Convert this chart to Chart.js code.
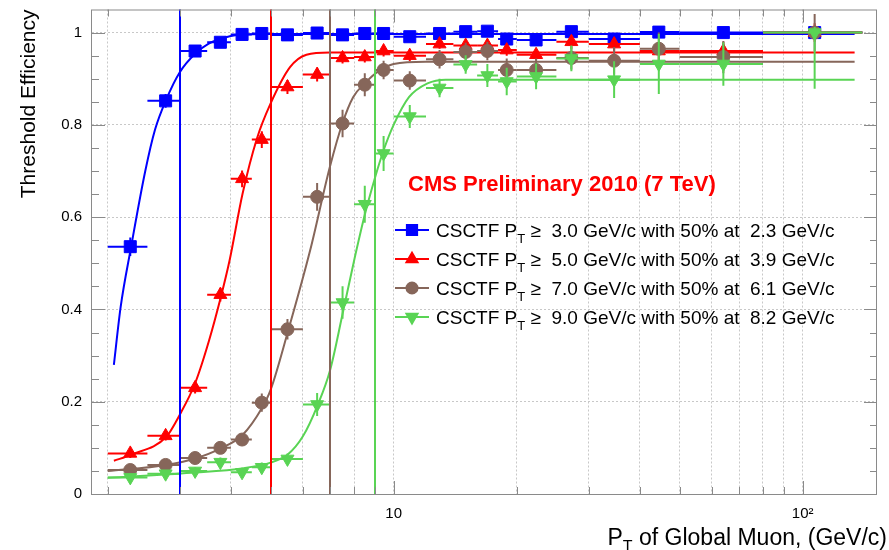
<!DOCTYPE html>
<html>
<head>
<meta charset="utf-8">
<script src="https://cdn.jsdelivr.net/npm/chart.js@4.4.1/dist/chart.umd.min.js"></script>
<style>
  html, body { margin: 0; padding: 0; background: #fff; }
  #wrap { width: 889px; height: 550px; position: relative; }
</style>
</head>
<body>
<div id="wrap"><canvas id="eff" width="889" height="550"></canvas></div>
<script>
// --- pT bins of the global muon (GeV/c) ---
const binLo    = [2.0, 2.5, 3.0, 3.5, 4.0, 4.5, 5, 6, 7, 8, 9, 10, 12, 14, 16, 18, 20, 25, 30, 40, 50, 80];
const binHi    = [2.5, 3.0, 3.5, 4.0, 4.5, 5.0, 6, 7, 8, 9, 10, 12, 14, 16, 18, 20, 25, 30, 40, 50, 80, 140];
const ptCenter = [2.27, 2.77, 3.27, 3.77, 4.26, 4.76, 5.5, 6.5, 7.5, 8.5, 9.45, 10.95, 12.95, 15, 16.95, 18.9, 22.3, 27.2, 34.6, 44.5, 64, 107];

// --- measured efficiencies and errors, one set per CSCTF threshold ---
const effPt3 = [0.536, 0.852, 0.96, 0.979, 0.996, 0.998, 0.995, 0.999, 0.995, 0.998, 0.998, 0.991, 0.998, 1.002, 1.003, 0.986, 0.984, 1.002, 0.986, 1.001, 1.0, 1.0];
const errPt3 = [0.02, 0.015, 0.01, 0.008, 0.005, 0.005, 0.005, 0.005, 0.005, 0.005, 0.005, 0.006, 0.005, 0.005, 0.005, 0.008, 0.008, 0.006, 0.008, 0.006, 0.006, 0.01];

const effPt5 = [0.088, 0.126, 0.23, 0.432, 0.683, 0.768, 0.882, 0.909, 0.945, 0.947, 0.96, 0.95, 0.975, 0.972, 0.972, 0.962, 0.952, 0.98, 0.975, 0.96, 0.96, 1.0];
const errPt5 = [0.01, 0.01, 0.012, 0.015, 0.018, 0.018, 0.015, 0.015, 0.012, 0.012, 0.012, 0.012, 0.01, 0.01, 0.012, 0.012, 0.012, 0.015, 0.015, 0.02, 0.02, 0.02];

const effPt7 = [0.052, 0.063, 0.078, 0.1, 0.118, 0.198, 0.357, 0.644, 0.803, 0.887, 0.919, 0.896, 0.942, 0.958, 0.96, 0.919, 0.919, 0.945, 0.939, 0.965, 0.947, 1.0];
const errPt7 = [0.008, 0.008, 0.01, 0.01, 0.012, 0.02, 0.022, 0.03, 0.03, 0.025, 0.02, 0.02, 0.02, 0.02, 0.02, 0.025, 0.025, 0.025, 0.03, 0.035, 0.035, 0.04];

const effPt9   = [0.036, 0.044, 0.05, 0.069, 0.047, 0.058, 0.076, 0.194, 0.415, 0.628, 0.738, 0.818, 0.88, 0.931, 0.907, 0.894, 0.905, 0.944, 0.898, 0.932, 0.932, 1.0];
const errPt9   = [0.008, 0.008, 0.008, 0.01, 0.01, 0.01, 0.012, 0.025, 0.035, 0.04, 0.038, 0.025, 0.02, 0.02, 0.025, 0.03, 0.028, 0.028, 0.04, 0.065, 0.047, 0.122];
const errUpPt9 = [0.008, 0.008, 0.008, 0.01, 0.01, 0.01, 0.012, 0.025, 0.035, 0.04, 0.038, 0.025, 0.02, 0.02, 0.025, 0.03, 0.028, 0.028, 0.04, 0.065, 0.047, 0.012];

// --- fitted turn-on curves ---
const fitPt3X = [2.07, 2.15, 2.28, 2.47, 2.61, 2.78, 3.0, 3.28, 3.53, 3.76, 4.14, 5.0, 134];
const fitPt3Y = [0.28, 0.405, 0.535, 0.70, 0.79, 0.855, 0.914, 0.955, 0.976, 0.986, 0.995, 0.997, 0.997];
const fitPt5X = [2.07, 2.28, 2.78, 3.0, 3.27, 3.53, 3.78, 3.97, 4.27, 4.63, 5.0, 5.58, 6.12, 6.98, 134];
const fitPt5Y = [0.072, 0.085, 0.124, 0.172, 0.24, 0.33, 0.427, 0.506, 0.65, 0.77, 0.846, 0.925, 0.952, 0.957, 0.957];
const fitPt7X = [2.0, 2.78, 3.27, 3.78, 4.27, 4.76, 5.0, 5.51, 6.25, 6.98, 7.5, 7.96, 8.5, 9.24, 10, 12, 134];
const fitPt7Y = [0.05, 0.063, 0.077, 0.099, 0.128, 0.186, 0.225, 0.351, 0.528, 0.708, 0.804, 0.86, 0.89, 0.918, 0.932, 0.937, 0.937];
const fitPt9X = [2.0, 3.2, 4.3, 5.0, 5.5, 6.0, 6.5, 7.0, 7.5, 8.0, 8.5, 9.0, 9.45, 10.0, 10.9, 12.1, 13.4, 134];
const fitPt9Y = [0.035, 0.046, 0.056, 0.068, 0.085, 0.125, 0.19, 0.27, 0.39, 0.505, 0.605, 0.685, 0.745, 0.80, 0.86, 0.89, 0.898, 0.898];

// --- thresholds and legend numbers ---
const thresholds = [3.0, 5.0, 7.0, 9.0];
const halfPoints = [2.3, 3.9, 6.1, 8.2];
const seriesColors = ['#0000ff', '#ff0000', '#86665a', '#59d454'];
const seriesMarkers = [
  { style: 'rect', radius: 8.5, rotation: 0 },
  { style: 'triangle', radius: 7.5, rotation: 0 },
  { style: 'circle', radius: 6.5, rotation: 0 },
  { style: 'triangle', radius: 7.5, rotation: 180 }
];

// --- axis ticks ---
const xTickVals = [2, 3, 4, 5, 6, 7, 8, 9, 10, 20, 30, 40, 50, 60, 70, 80, 90, 100];
const xTickLabels = { 10: '10', 100: '10\u00B2' };
const yMajorStep = 0.2;

const FONT = '"Liberation Sans", Arial, Helvetica, sans-serif';

function isMajorY(v) {
  const r = v / yMajorStep;
  return Math.abs(r - Math.round(r)) < 1e-6;
}

function makePoints(xs, ys) {
  return xs.map((x, i) => ({ x: x, y: ys[i] }));
}

const effSets = [
  { eff: effPt3, err: errPt3, errUp: errPt3, fitX: fitPt3X, fitY: fitPt3Y },
  { eff: effPt5, err: errPt5, errUp: errPt5, fitX: fitPt5X, fitY: fitPt5Y },
  { eff: effPt7, err: errPt7, errUp: errPt7, fitX: fitPt7X, fitY: fitPt7Y },
  { eff: effPt9, err: errPt9, errUp: errUpPt9, fitX: fitPt9X, fitY: fitPt9Y }
];

const datasets = [];
effSets.forEach((s, i) => {
  const col = seriesColors[i];
  // fit curve
  datasets.push({
    label: 'fit ' + thresholds[i],
    data: makePoints(s.fitX, s.fitY),
    showLine: true,
    borderColor: col,
    borderWidth: 2,
    pointRadius: 0,
    cubicInterpolationMode: 'monotone',
    order: 8 - 2 * i
  });
  // data points with error bars
  datasets.push({
    label: 'CSCTF ' + thresholds[i],
    data: makePoints(ptCenter, s.eff),
    xLo: binLo,
    xHi: binHi,
    yErrDn: s.err,
    yErrUp: s.errUp,
    barColor: col,
    backgroundColor: col,
    borderColor: col,
    pointStyle: seriesMarkers[i].style,
    pointRadius: seriesMarkers[i].radius,
    pointRotation: seriesMarkers[i].rotation,
    pointBorderWidth: 1,
    order: 7 - 2 * i
  });
});

// error bars drawn just before each marker dataset
const errorBarPlugin = {
  id: 'errorBars',
  beforeDatasetDraw(chart, args) {
    const ds = chart.data.datasets[args.index];
    if (!ds.xLo) return;
    const { ctx, chartArea: a, scales: { x, y } } = chart;
    ctx.save();
    ctx.beginPath();
    ctx.rect(a.left, a.top, a.right - a.left, a.bottom - a.top);
    ctx.clip();
    ctx.strokeStyle = ds.barColor;
    ctx.lineWidth = 2;
    ds.data.forEach((p, i) => {
      const px = x.getPixelForValue(p.x);
      const py = y.getPixelForValue(p.y);
      ctx.beginPath();
      ctx.moveTo(x.getPixelForValue(ds.xLo[i]), py);
      ctx.lineTo(x.getPixelForValue(ds.xHi[i]), py);
      ctx.moveTo(px, y.getPixelForValue(p.y - ds.yErrDn[i]));
      ctx.lineTo(px, y.getPixelForValue(p.y + ds.yErrUp[i]));
      ctx.stroke();
    });
    ctx.restore();
  }
};

// vertical lines at the trigger thresholds
const thresholdPlugin = {
  id: 'thresholdLines',
  afterDatasetsDraw(chart) {
    const { ctx, chartArea: a, scales: { x } } = chart;
    ctx.save();
    ctx.lineWidth = 2;
    thresholds.forEach((t, i) => {
      const px = Math.round(x.getPixelForValue(t));
      ctx.strokeStyle = seriesColors[i];
      ctx.beginPath();
      ctx.moveTo(px, a.top);
      ctx.lineTo(px, a.bottom);
      ctx.stroke();
    });
    ctx.restore();
  }
};

// ROOT-like frame with inward ticks on all four sides
const framePlugin = {
  id: 'rootFrame',
  afterDraw(chart) {
    const { ctx, chartArea: a, scales: { x, y } } = chart;
    ctx.save();
    ctx.strokeStyle = '#8a8a8a';
    ctx.lineWidth = 1;
    ctx.strokeRect(a.left - 0.5, a.top + 0.5, a.right - a.left, a.bottom - a.top);
    ctx.beginPath();
    y.ticks.forEach(t => {
      if (t.value <= 0 || t.value > 1.0001) return;
      const py = Math.round(y.getPixelForValue(t.value)) + 0.5;
      const len = isMajorY(t.value) ? 13 : 7;
      ctx.moveTo(a.left, py); ctx.lineTo(a.left + len, py);
      ctx.moveTo(a.right, py); ctx.lineTo(a.right - len, py);
    });
    xTickVals.forEach(v => {
      const px = Math.round(x.getPixelForValue(v)) + 0.5;
      const len = xTickLabels[v] ? 13 : 7;
      ctx.moveTo(px, a.bottom); ctx.lineTo(px, a.bottom - len);
      ctx.moveTo(px, a.top); ctx.lineTo(px, a.top + len);
    });
    ctx.stroke();
    ctx.restore();
  }
};

function drawSubText(ctx, x, y, before, sub, after, size, align) {
  const main = size + 'px ' + FONT;
  const small = Math.round(size * 0.7) + 'px ' + FONT;
  ctx.font = main;
  const w1 = ctx.measureText(before).width;
  const w3 = ctx.measureText(after).width;
  ctx.font = small;
  const w2 = ctx.measureText(sub).width;
  let x0 = align === 'right' ? x - (w1 + w2 + w3) : x;
  ctx.textAlign = 'left';
  ctx.textBaseline = 'alphabetic';
  ctx.font = main;
  ctx.fillText(before, x0, y);
  ctx.font = small;
  ctx.fillText(sub, x0 + w1, y + size * 0.3);
  ctx.font = main;
  ctx.fillText(after, x0 + w1 + w2, y);
}

// x title, CMS label and legend
const textPlugin = {
  id: 'rootTexts',
  afterDraw(chart) {
    const ctx = chart.ctx;
    ctx.save();
    ctx.fillStyle = '#000';
    drawSubText(ctx, 887, 545, 'P', 'T', ' of Global Muon, (GeV/c)', 23, 'right');

    ctx.fillStyle = '#ff0000';
    ctx.font = 'bold 22px ' + FONT;
    ctx.textAlign = 'left';
    ctx.textBaseline = 'alphabetic';
    ctx.fillText('CMS Preliminary 2010 (7 TeV)', 408, 191);

    const rowY = [230, 259, 288, 317];
    thresholds.forEach((t, i) => {
      const cy = rowY[i];
      const col = seriesColors[i];
      ctx.strokeStyle = col;
      ctx.fillStyle = col;
      ctx.lineWidth = 2;
      ctx.beginPath();
      ctx.moveTo(395, cy); ctx.lineTo(429, cy);
      ctx.stroke();
      const m = seriesMarkers[i];
      Chart.helpers.drawPoint(ctx, { pointStyle: m.style, radius: m.radius * 0.85, rotation: m.rotation, borderWidth: 1 }, 412, cy);
      ctx.fillStyle = '#000';
      drawSubText(ctx, 436, cy + 7, 'CSCTF P', 'T',
        ' \u2265  ' + t.toFixed(1) + ' GeV/c with 50% at  ' + halfPoints[i].toFixed(1) + ' GeV/c', 19, 'left');
    });
    ctx.restore();
  }
};

new Chart(document.getElementById('eff'), {
  type: 'scatter',
  data: { datasets: datasets },
  options: {
    responsive: false,
    animation: false,
    devicePixelRatio: 1,
    events: [],
    layout: { padding: { top: 8, right: 12, left: 0, bottom: 0 } },
    plugins: { legend: { display: false }, tooltip: { enabled: false } },
    scales: {
      x: {
        type: 'logarithmic',
        min: 1.83,
        max: 152,
        afterFit: s => { s.height = 56; },
        afterBuildTicks: s => { s.ticks = xTickVals.map(v => ({ value: v })); },
        ticks: {
          autoSkip: false,
          maxRotation: 0,
          padding: 11,
          color: '#000',
          font: { family: FONT, size: 15 },
          callback: v => xTickLabels[v] || ''
        },
        grid: { drawTicks: false, color: '#c8c8c8', lineWidth: 1 },
        border: { display: false, dash: [2, 2] }
      },
      y: {
        type: 'linear',
        min: 0,
        max: 1.05,
        afterFit: s => { s.width = 92; s.paddingTop = 0; s.paddingBottom = 0; },
        ticks: {
          stepSize: 0.05,
          autoSkip: false,
          padding: 10,
          color: '#000',
          font: { family: FONT, size: 15 },
          callback: v => isMajorY(v) && v < 1.0001 ? String(+v.toFixed(1)) : ''
        },
        grid: {
          drawTicks: false,
          lineWidth: 1,
          color: c => (isMajorY(c.tick.value) && c.tick.value > 0 && c.tick.value < 1.0001) ? '#c8c8c8' : 'rgba(0,0,0,0)'
        },
        border: { display: false, dash: [2, 2] },
        title: {
          display: true,
          text: 'Threshold Efficiency',
          align: 'end',
          color: '#000',
          font: { family: FONT, size: 21 },
          padding: { top: 17, bottom: 0 }
        }
      }
    }
  },
  plugins: [errorBarPlugin, thresholdPlugin, framePlugin, textPlugin]
});
</script>
</body>
</html>
